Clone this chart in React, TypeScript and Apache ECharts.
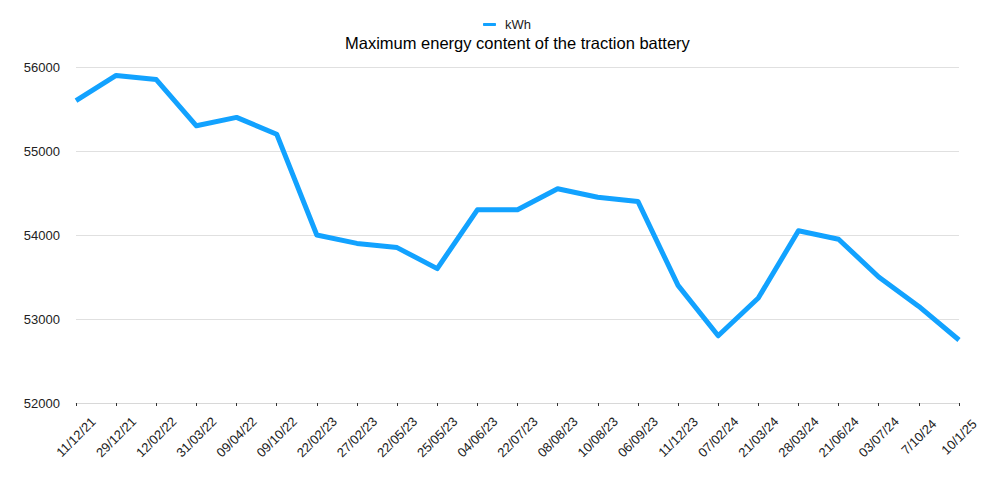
import React, { useEffect, useRef } from "react";
import * as echarts from "echarts";

const categories = [
  "11/12/21", "29/12/21", "12/02/22", "31/03/22", "09/04/22", "09/10/22",
  "22/02/23", "27/02/23", "22/05/23", "25/05/23", "04/06/23", "22/07/23",
  "08/08/23", "10/08/23", "06/09/23", "11/12/23", "07/02/24", "21/03/24",
  "28/03/24", "21/06/24", "03/07/24", "7/10/24", "10/1/25",
];

const kwhValues = [
  55600, 55900, 55850, 55300, 55400, 55200,
  54000, 53900, 53850, 53600, 54300, 54300,
  54550, 54450, 54400, 53400, 52800, 53250,
  54050, 53950, 53500, 53150, 52750,
];

const seriesName = "kWh";
const titleText = "Maximum energy content of the traction battery";

const FONT = "'Liberation Sans', Arial, Helvetica, sans-serif";

export default function App() {
  const ref = useRef<HTMLDivElement>(null);
  useEffect(() => {
    if (!ref.current) return;
    const chart = echarts.init(ref.current, undefined, { renderer: "svg" });
    chart.setOption({
      animation: false,
      backgroundColor: "#ffffff",
      title: {
        text: titleText,
        left: 345,
        top: 34,
        padding: 0,
        textStyle: { fontFamily: FONT, fontSize: 16.5, fontWeight: "normal", color: "#000" },
      },
      legend: {
        data: [{ name: seriesName, icon: "roundRect" }],
        top: 18,
        left: 483,
        padding: 0,
        itemWidth: 13,
        itemHeight: 3,
        itemGap: 8,
        textStyle: { fontFamily: FONT, fontSize: 13, color: "#222", padding: [0, 0, 0, 4] },
      },
      grid: { left: 76, right: 41, top: 67, bottom: 83, containLabel: false },
      xAxis: {
        type: "category",
        data: categories,
        boundaryGap: false,
        axisLine: { lineStyle: { color: "#d8d8d8", width: 1 } },
        axisTick: { show: true, length: 3, lineStyle: { color: "#333" } },
        axisLabel: {
          rotate: 45,
          interval: 0,
          fontFamily: FONT,
          fontSize: 13,
          color: "#222",
          margin: 34,
          align: "center",
          verticalAlign: "middle",
        },
      },
      yAxis: {
        type: "value",
        min: 52000,
        max: 56000,
        interval: 1000,
        axisLine: { show: false },
        axisTick: { show: false },
        splitLine: { lineStyle: { color: "#e0e0e0", width: 1 } },
        axisLabel: {
          fontFamily: FONT,
          fontSize: 13,
          color: "#222",
          margin: 16,
          formatter: (v: number) => String(v),
        },
      },
      series: [
        {
          name: seriesName,
          type: "line",
          data: kwhValues,
          symbol: "none",
          lineStyle: { color: "#12A2FF", width: 5, join: "round" },
          itemStyle: { color: "#12A2FF" },
        },
      ],
    });
    return () => chart.dispose();
  }, []);
  return <div ref={ref} style={{ width: 1000, height: 486, position: "absolute", left: 0, top: 0 }} />;
}
